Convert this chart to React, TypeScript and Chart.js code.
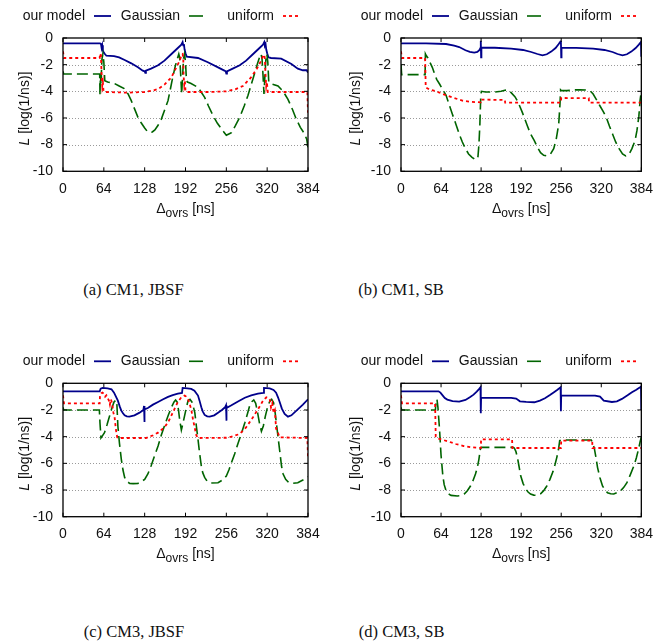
import React, { useEffect, useRef } from 'react';
import { Chart, registerables } from 'chart.js';
Chart.register(...registerables);

// ---------- data ----------
const xTickValues = [0, 64, 128, 192, 256, 320, 384];
const xTickLabels = ['0', '64', '128', '192', '256', '320', '384'];
const yTickValues = [0, -2, -4, -6, -8, -10];
const yTickLabels = ['0', '-2', '-4', '-6', '-8', '-10'];
const gridValues = [-2, -4, -6, -8];
const seriesLabels = ['our model', 'Gaussian', 'uniform'];
const captions = ['(a) CM1, JBSF', '(b) CM1, SB', '(c) CM3, JBSF', '(d) CM3, SB'];

// (a) CM1, JBSF
const aModel = [[0,-0.4],[58,-0.4],[59.5,-0.45],[60.5,-0.75],[61.5,-0.55],[62.5,-0.95],[64,-1.1],[66,-1.22],[68,-1.33],[80,-1.36],[88,-1.45],[96.6,-1.65],[107,-1.9],[117.5,-2.2],[125,-2.45],[128,-2.5],[129,-2.62],[130,-2.45],[138,-2.3],[149,-2.05],[159,-1.7],[170,-1.2],[180,-0.75],[185.5,-0.5],[187.5,-0.3],[188.5,-0.55],[189.5,-0.45],[190.5,-0.85],[192,-1.15],[194,-1.4],[211.6,-1.5],[227,-1.82],[243,-2.2],[253,-2.45],[255,-2.5],[256,-2.68],[257,-2.5],[266,-2.3],[277,-2.05],[287,-1.7],[298,-1.2],[308,-0.75],[313.5,-0.5],[315.5,-0.3],[316.5,-0.55],[317.5,-0.45],[318.5,-0.85],[320,-1.15],[322,-1.45],[326,-1.5],[342,-1.55],[358,-1.95],[368,-2.3],[376,-2.42],[382,-2.42],[384,-2.6]];
const aGauss = [[0,-2.5],[1,-2.7],[57.5,-2.7],[58,-4.3],[58.7,-2.7],[59.5,-3.5],[61,-1.6],[62.5,-1.2],[64,-1.8],[65.5,-3.2],[70,-3.3],[80,-3.4],[88,-3.6],[96,-3.8],[102,-4.2],[107,-4.7],[112,-5.3],[117.5,-5.95],[123,-6.4],[128,-6.75],[132,-7.0],[136,-7.1],[140,-7.05],[144,-6.9],[149,-6.55],[154,-6.1],[160,-5.3],[164.6,-4.7],[168,-3.9],[172,-2.95],[176,-2.1],[179,-1.6],[181.5,-1.2],[183,-1.5],[184.5,-2.8],[186,-4.2],[187.5,-2.8],[189,-1.5],[190.5,-1.2],[192,-1.8],[193.5,-3.2],[195,-3.3],[200,-3.4],[211.6,-3.7],[222,-4.45],[228,-5.1],[235,-5.8],[242,-6.4],[248,-6.8],[252,-7.05],[256,-7.3],[260,-7.2],[264,-7.1],[270,-6.6],[277,-5.95],[284,-5.1],[290,-4.3],[295,-3.5],[300,-2.7],[305,-1.9],[308,-1.45],[310.5,-1.2],[312,-1.6],[313.5,-2.8],[315,-4.2],[316.5,-2.8],[318,-1.6],[319.5,-1.2],[321,-1.8],[322.5,-3.3],[324,-3.4],[337,-3.6],[345,-4.0],[352.6,-4.6],[360,-5.4],[365.7,-6.1],[372,-6.7],[378.7,-7.2],[382,-7.6],[384,-8.2]];
const aUnif = [[0,-1.0],[1.5,-1.5],[57.5,-1.5],[58,-1.15],[59.5,-1.3],[60.5,-2.8],[61.5,-3.6],[62.5,-3.3],[63.5,-4.0],[66,-4.05],[100,-4.1],[128,-4.05],[140,-3.95],[149,-3.83],[159,-3.5],[170,-2.95],[177.6,-2.2],[183,-1.7],[186,-1.25],[187.5,-1.2],[188.5,-1.5],[189,-2.8],[190,-3.5],[191,-3.2],[192,-4.0],[195,-4.05],[230,-4.05],[256,-4.0],[270,-3.85],[282,-3.6],[294,-3.0],[304,-2.3],[310,-1.75],[314,-1.3],[315.5,-1.25],[316.5,-1.6],[317.5,-2.8],[318.5,-3.6],[319.5,-3.3],[321,-4.05],[383,-4.05],[384,-5.6]];

// (b) CM1, SB
const bModel = [[0,-0.4],[40,-0.4],[72,-0.45],[85,-0.58],[93,-0.68],[103,-0.92],[110,-1.04],[117,-1.1],[122,-1.05],[125.5,-0.9],[127,-0.75],[127.5,-0.2],[128,-1.45],[128.5,-0.72],[150,-0.73],[176,-0.8],[195,-0.9],[208,-1.05],[218,-1.2],[226,-1.3],[233,-1.22],[240,-1.02],[247,-0.75],[252,-0.45],[255,-0.25],[255.5,-0.2],[256,-1.45],[256.5,-0.72],[280,-0.74],[307,-0.8],[325,-0.9],[338,-1.05],[346,-1.2],[354,-1.3],[361,-1.22],[368,-1.02],[375,-0.75],[380,-0.5],[383.5,-0.3],[384,-1.4]];
const bGauss = [[0,-2.0],[1,-2.75],[38.5,-2.75],[39,-1.2],[40,-1.3],[43,-1.5],[46,-1.8],[50,-2.2],[53.7,-2.7],[57,-3.1],[61.6,-3.45],[67,-3.9],[72,-4.3],[77,-5.0],[82,-5.7],[88,-6.5],[93,-7.2],[98,-7.8],[103,-8.3],[108,-8.7],[113.5,-8.95],[118,-9.1],[121.5,-9.1],[123,-8.9],[124.5,-8.0],[126,-6.5],[127.5,-4.3],[128.5,-4.0],[135,-4.05],[150,-4.05],[160,-4.0],[166,-3.92],[171,-3.9],[176,-4.1],[182,-4.4],[187,-4.8],[194,-5.6],[202,-6.6],[207,-7.2],[213,-7.7],[218,-8.2],[223,-8.6],[228,-8.8],[234,-8.85],[239,-8.7],[244,-8.3],[248,-7.6],[252,-6.45],[254,-5.0],[255,-3.9],[256,-3.95],[265,-3.95],[275,-3.9],[286,-3.88],[295,-3.9],[302,-3.95],[307,-4.2],[312,-4.6],[318,-5.1],[323,-5.5],[328,-5.95],[333,-6.6],[338,-7.2],[343,-7.8],[348.5,-8.3],[354,-8.7],[359,-8.85],[364,-8.75],[369,-8.3],[374,-7.7],[377,-6.95],[380,-5.9],[382,-4.7],[384,-3.95]];
const bUnif = [[0,-1.0],[1.5,-1.5],[38.5,-1.5],[39.5,-3.7],[45,-3.85],[56,-4.0],[72,-4.3],[85,-4.5],[98,-4.7],[110,-4.78],[127.5,-4.83],[128,-4.62],[166,-4.65],[166.5,-4.85],[255.5,-4.85],[256,-4.5],[300,-4.52],[300.5,-4.85],[384,-4.85]];

// (c) CM3, JBSF
const cModel = [[0,-0.6],[57.5,-0.6],[59,-0.4],[62,-0.35],[70,-0.38],[76,-0.45],[80,-0.7],[83,-1.0],[86,-1.3],[89,-1.75],[91.4,-2.05],[94,-2.25],[96.6,-2.4],[100,-2.48],[104,-2.5],[112,-2.4],[120,-2.2],[126,-2.0],[127,-1.7],[127.5,-2.9],[128,-1.95],[133,-1.85],[141,-1.6],[149,-1.4],[157,-1.2],[164.6,-1.02],[172,-0.88],[180,-0.78],[186.5,-0.72],[187.5,-0.35],[195,-0.38],[201,-0.42],[206,-0.55],[211.6,-0.92],[214,-1.3],[216.8,-1.8],[219,-2.1],[222,-2.37],[226,-2.48],[230,-2.5],[237,-2.4],[243,-2.2],[249,-2.0],[254,-1.8],[255.5,-1.65],[256,-2.8],[256.5,-1.85],[264,-1.65],[275,-1.35],[285,-1.08],[295,-0.9],[305.6,-0.78],[314,-0.72],[315,-0.35],[324,-0.38],[330,-0.5],[334,-0.7],[337,-1.05],[339.6,-1.4],[343,-1.9],[347.4,-2.3],[352.6,-2.5],[358,-2.4],[368,-1.95],[376,-1.6],[384,-1.2]];
const cGauss = [[0,-1.8],[1,-2.0],[57,-2.0],[58,-3.0],[59.5,-4.1],[61,-4.0],[65,-3.7],[69,-3.1],[73,-2.45],[77,-1.8],[80,-1.4],[83,-1.25],[84.5,-1.6],[86,-3.2],[88.5,-4.5],[91.4,-5.7],[94,-6.5],[96.6,-7.05],[100,-7.35],[104.5,-7.5],[110,-7.52],[117.5,-7.5],[122,-7.4],[128,-7.2],[133,-6.8],[138,-6.2],[143,-5.5],[149,-4.7],[154,-3.9],[159,-3.2],[165,-2.4],[170,-1.8],[174,-1.4],[176.5,-1.25],[179,-1.4],[181,-2.0],[183,-2.8],[185.5,-3.5],[188,-3.0],[190.7,-2.4],[193,-1.9],[196,-1.3],[199,-1.2],[202,-1.4],[204.5,-1.8],[206.6,-2.2],[209,-3.2],[211.6,-4.2],[214,-5.2],[216.8,-6.2],[219,-6.7],[222,-7.05],[226,-7.35],[232,-7.48],[243,-7.45],[250,-7.25],[256,-6.95],[260,-6.5],[264,-5.95],[269,-5.3],[274,-4.55],[280,-3.7],[285,-2.95],[289,-2.3],[292.5,-1.7],[296,-1.38],[299,-1.25],[302,-1.5],[305,-2.2],[308,-3.0],[311,-3.6],[314,-3.2],[317,-2.5],[320,-1.9],[324,-1.35],[327,-1.2],[330,-1.45],[332.5,-2.2],[335,-3.2],[337.5,-4.2],[340,-5.2],[342.5,-6.2],[345,-6.8],[349,-7.2],[354,-7.45],[360,-7.5],[368,-7.45],[376,-7.25],[384,-7.0]];
const cUnif = [[0,-0.9],[1.5,-1.5],[57.5,-1.5],[58,-0.9],[60,-0.75],[62,-0.7],[64,-0.8],[66,-1.0],[68,-0.9],[70,-1.1],[72,-1.3],[73.5,-1.6],[75,-1.2],[77,-1.5],[79,-2.2],[81,-2.6],[83,-3.5],[85,-4.05],[88,-4.1],[130,-4.1],[141,-3.9],[149,-3.7],[159,-3.3],[165,-2.9],[170,-2.4],[175,-1.9],[180,-1.4],[185.5,-1.05],[190.7,-0.92],[193,-1.0],[196,-1.2],[198.5,-1.55],[201,-1.95],[203.7,-2.7],[206.3,-3.3],[209,-3.9],[211.6,-4.1],[256,-4.08],[264,-4.0],[277,-3.8],[287,-3.3],[297.7,-2.55],[305.6,-1.95],[310,-1.6],[313.5,-1.3],[318.7,-1.05],[322,-1.1],[324,-1.2],[326,-1.8],[328,-1.5],[330,-2.2],[332,-2.0],[334,-3.4],[336,-3.6],[339.6,-4.05],[383,-4.1],[384,-5.5]];

// (d) CM3, SB
const dModel = [[0,-0.6],[60,-0.6],[63,-0.7],[66.8,-0.92],[70,-1.1],[74,-1.22],[82.4,-1.33],[93,-1.37],[103,-1.25],[110,-1.05],[116,-0.85],[121,-0.62],[125,-0.42],[127,-0.3],[127.5,-2.25],[128,-1.1],[150,-1.1],[176,-1.1],[184,-1.15],[190,-1.35],[200,-1.4],[213,-1.42],[222,-1.3],[230,-1.12],[238,-0.88],[245,-0.65],[250,-0.48],[255,-0.3],[255.5,-2.1],[256,-0.92],[280,-0.92],[310,-0.92],[318,-1.0],[324,-1.3],[337,-1.4],[345,-1.35],[353,-1.17],[362,-0.9],[369,-0.67],[376,-0.48],[382,-0.3],[383.5,-0.25],[384,-2.0]];
const dGauss = [[0,-1.8],[1,-2.0],[55,-2.0],[56,-1.25],[57.5,-1.2],[59,-1.8],[61.5,-3.4],[64,-5.4],[66.8,-6.9],[69,-7.6],[72,-8.05],[76,-8.3],[80,-8.4],[90,-8.45],[96,-8.42],[101,-8.3],[106,-8.05],[111,-7.7],[115,-7.3],[119,-6.8],[122,-6.3],[124.5,-5.7],[126,-5.2],[127,-4.9],[128.5,-4.8],[150,-4.8],[179,-4.8],[181,-4.85],[183.5,-5.1],[186,-5.55],[188.5,-6.2],[191,-6.9],[195,-7.5],[199,-7.9],[203,-8.15],[207,-8.3],[212,-8.38],[217.5,-8.4],[223,-8.28],[228,-8.05],[233,-7.7],[238,-7.2],[243,-6.6],[246,-6.1],[249,-5.55],[251.5,-5.0],[253.6,-4.3],[256,-4.25],[280,-4.25],[304,-4.25],[306.5,-4.5],[309,-4.9],[311.5,-5.55],[314,-6.3],[318,-7.1],[322,-7.7],[326,-8.0],[330,-8.2],[335,-8.28],[340,-8.3],[345,-8.2],[351,-8.05],[356,-7.8],[361,-7.45],[366,-6.9],[372,-6.2],[376,-5.6],[379.7,-4.9],[382,-4.4],[384,-4.05]];
const dUnif = [[0,-0.9],[1.5,-1.5],[54.5,-1.5],[55.5,-4.0],[57,-4.1],[61.5,-4.17],[75,-4.35],[87.6,-4.55],[100,-4.7],[113.7,-4.8],[127.5,-4.85],[128,-4.2],[177.5,-4.2],[178,-4.85],[255.5,-4.85],[256,-4.3],[305.5,-4.3],[306,-4.85],[384,-4.85]];

const panelSeries = [
  [aModel, aGauss, aUnif],
  [bModel, bGauss, bUnif],
  [cModel, cGauss, cUnif],
  [dModel, dGauss, dUnif],
];

// ---------- layout / style ----------
const CW = 331;
const CH = 250;
const SANS = '"Liberation Sans", Arial, Helvetica, sans-serif';
const SERIF = '"Liberation Serif", "Times New Roman", Times, serif';
const layouts = [
  { cl: 0, ct: 0, L: 63, R: 308, T: 38, B: 171.3, titleX: 25, capX: 133.5, capBase: 295.3 },
  { cl: 331, ct: 0, L: 401, R: 646.3, T: 38, B: 171.3, titleX: 356, capX: 401, capBase: 295.3 },
  { cl: 0, ct: 345, L: 63, R: 308, T: 383.3, B: 516.7, titleX: 25, capX: 134, capBase: 637.5 },
  { cl: 331, ct: 345, L: 401, R: 646.3, T: 383.3, B: 516.7, titleX: 356, capX: 401.7, capBase: 637.5 },
];
const seriesStyles = [
  { color: '#00008b', width: 1.8, dash: [] as number[], legendDash: [] as number[], legendLen: 17 },
  { color: '#006400', width: 1.6, dash: [11, 5], legendDash: [14, 6], legendLen: 14 },
  { color: '#ff0000', width: 1.8, dash: [3, 3], legendDash: [3, 3], legendLen: 17 },
];
const legendRight = [22, 117, 211];

function makeDecor(lay: any) {
  return {
    id: 'gpDecor',
    beforeDatasetsDraw(chart: any) {
      const { ctx, chartArea: a, scales } = chart;
      ctx.save();
      ctx.strokeStyle = '#9a9a9a';
      ctx.lineWidth = 1;
      ctx.setLineDash([1, 2]);
      for (const v of gridValues) {
        const py = Math.round(scales.y.getPixelForValue(v)) + 0.5;
        ctx.beginPath();
        ctx.moveTo(a.left, py);
        ctx.lineTo(a.right, py);
        ctx.stroke();
      }
      ctx.restore();
    },
    afterDatasetsDraw(chart: any) {
      const { ctx, chartArea: a, scales } = chart;
      ctx.save();
      ctx.strokeStyle = '#000';
      ctx.lineWidth = 1.3;
      ctx.setLineDash([]);
      ctx.strokeRect(a.left, a.top, a.right - a.left, a.bottom - a.top);
      ctx.lineWidth = 1;
      const tl = 4;
      ctx.beginPath();
      for (const v of xTickValues) {
        const px = scales.x.getPixelForValue(v);
        ctx.moveTo(px, a.bottom); ctx.lineTo(px, a.bottom - tl);
        ctx.moveTo(px, a.top); ctx.lineTo(px, a.top + tl);
      }
      for (const v of yTickValues) {
        const py = scales.y.getPixelForValue(v);
        ctx.moveTo(a.left, py); ctx.lineTo(a.left + tl, py);
        ctx.moveTo(a.right, py); ctx.lineTo(a.right - tl, py);
      }
      ctx.stroke();
      ctx.restore();
    },
    afterDraw(chart: any) {
      const { ctx, chartArea: a } = chart;
      const L = a.left, T = a.top, B = a.bottom, R = a.right;
      ctx.save();
      // legend
      ctx.font = `14px ${SANS}`;
      ctx.fillStyle = '#111';
      ctx.textAlign = 'right';
      ctx.textBaseline = 'alphabetic';
      seriesLabels.forEach((lab, i) => {
        const ds = chart.data.datasets.find((d: any) => d.label === lab);
        const st = seriesStyles[i];
        const rx = L + legendRight[i];
        ctx.fillText(lab, rx, T - 18);
        ctx.strokeStyle = ds.borderColor;
        ctx.lineWidth = ds.borderWidth;
        ctx.setLineDash(st.legendDash);
        ctx.beginPath();
        ctx.moveTo(rx + 9, T - 22);
        ctx.lineTo(rx + 9 + st.legendLen, T - 22);
        ctx.stroke();
      });
      ctx.setLineDash([]);
      // x title: Δ_ovrs [ns]
      ctx.textAlign = 'left';
      const big = `14px ${SANS}`;
      const small = `12px ${SANS}`;
      ctx.font = big;
      const wD = ctx.measureText('Δ').width;
      const wN = ctx.measureText(' [ns]').width;
      ctx.font = small;
      const wS = ctx.measureText('ovrs').width;
      const sx = (L + R) / 2 - (wD + wS + wN) / 2;
      const by = B + 41.7;
      ctx.font = big;
      ctx.fillText('Δ', sx, by);
      ctx.font = small;
      ctx.fillText('ovrs', sx + wD, by + 3.5);
      ctx.font = big;
      ctx.fillText(' [ns]', sx + wD + wS, by);
      // y title: L [log(1/ns)]
      const it = `italic 14px ${SANS}`;
      ctx.font = it;
      const wL = ctx.measureText('L').width;
      ctx.font = big;
      const wR = ctx.measureText(' [log(1/ns)]').width;
      ctx.translate(lay.titleX - lay.cl, T + 70.5);
      ctx.rotate(-Math.PI / 2);
      ctx.textBaseline = 'middle';
      const st = -(wL + wR) / 2;
      ctx.font = it;
      ctx.fillText('L', st, 0);
      ctx.font = big;
      ctx.fillText(' [log(1/ns)]', st + wL, 0);
      ctx.restore();
    },
  };
}

function Panel({ idx }: { idx: number }) {
  const ref = useRef<HTMLCanvasElement>(null);
  const lay = layouts[idx];
  useEffect(() => {
    const series = panelSeries[idx];
    const toPts = (arr: number[][]) => arr.map(([x, y]) => ({ x, y }));
    const datasets = [2, 1, 0].map((k) => ({
      label: seriesLabels[k],
      data: toPts(series[k]),
      borderColor: seriesStyles[k].color,
      borderWidth: seriesStyles[k].width,
      borderDash: seriesStyles[k].dash,
      pointRadius: 0,
      tension: 0,
      fill: false,
    }));
    const tickFont = { family: SANS, size: 14 };
    const yAxisW = lay.L - lay.cl;
    const xAxisH = lay.ct + CH - lay.B;
    const chart = new Chart(ref.current as HTMLCanvasElement, {
      type: 'line',
      data: { datasets } as any,
      options: {
        animation: false,
        responsive: false,
        devicePixelRatio: 1,
        events: [],
        layout: {
          padding: {
            left: 0,
            top: lay.T - lay.ct,
            right: lay.cl + CW - lay.R,
            bottom: 0,
          },
        },
        plugins: { legend: { display: false }, tooltip: { enabled: false } },
        scales: {
          x: {
            type: 'linear',
            min: 0,
            max: 384,
            afterFit: (s: any) => { s.height = xAxisH; },
            afterBuildTicks: (s: any) => { s.ticks = xTickValues.map((v) => ({ value: v })); },
            grid: { display: false, drawTicks: false },
            border: { display: false },
            ticks: {
              autoSkip: false,
              maxRotation: 0,
              padding: 9,
              font: tickFont,
              color: '#111',
              callback: (v: any) => xTickLabels[xTickValues.indexOf(Number(v))] ?? '',
            },
          },
          y: {
            type: 'linear',
            min: -10,
            max: 0,
            afterFit: (s: any) => { s.width = yAxisW; },
            afterBuildTicks: (s: any) => { s.ticks = yTickValues.map((v) => ({ value: v })); },
            grid: { display: false, drawTicks: false },
            border: { display: false },
            ticks: {
              autoSkip: false,
              padding: 10,
              font: tickFont,
              color: '#111',
              callback: (v: any) => yTickLabels[yTickValues.indexOf(Number(v))] ?? '',
            },
          },
        },
      } as any,
      plugins: [makeDecor(lay) as any],
    });
    return () => chart.destroy();
  }, [idx]);
  return (
    <canvas
      ref={ref}
      width={CW}
      height={CH}
      style={{ position: 'absolute', left: lay.cl, top: lay.ct, width: CW, height: CH }}
    />
  );
}

export default function App() {
  return (
    <div style={{ position: 'absolute', left: 0, top: 0, width: 662, height: 643, background: '#fff', overflow: 'hidden' }}>
      {layouts.map((lay, i) => (
        <React.Fragment key={i}>
          <Panel idx={i} />
          <div
            style={{
              position: 'absolute',
              left: lay.capX,
              top: lay.capBase - 13.8,
              transform: 'translateX(-50%)',
              fontFamily: SERIF,
              fontSize: '16.5px',
              lineHeight: '16.5px',
              color: '#111',
              whiteSpace: 'nowrap',
            }}
          >
            {captions[i]}
          </div>
        </React.Fragment>
      ))}
    </div>
  );
}
